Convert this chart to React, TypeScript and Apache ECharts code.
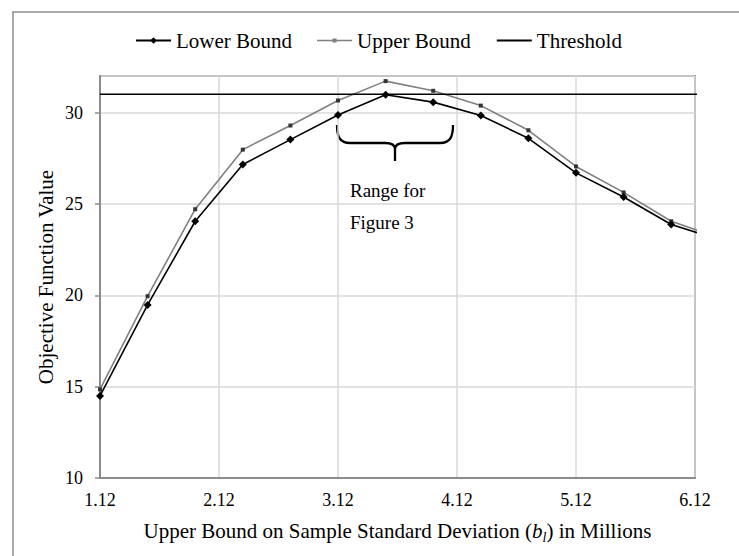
import React, { useEffect, useRef } from "react";
import * as echarts from "echarts";

// ---- data ----
const xValues = [1.12, 1.52, 1.92, 2.32, 2.72, 3.12, 3.52, 3.92, 4.32, 4.72, 5.12, 5.52, 5.92, 6.32];
const lowerBound = [14.49, 19.47, 24.05, 27.16, 28.52, 29.87, 30.97, 30.57, 29.84, 28.59, 26.7, 25.38, 23.87, 23.05];
const upperBound = [14.85, 19.95, 24.71, 27.97, 29.29, 30.66, 31.72, 31.19, 30.38, 29.03, 27.05, 25.63, 24.05, 23.15];
const thresholdX = [1.12, 6.15];
const thresholdValue = 31;
const xTickValues = [1.12, 2.12, 3.12, 4.12, 5.12, 6.12];
const seriesNames = ["Lower Bound", "Upper Bound", "Threshold"];
const annotationLines = ["Range for", "Figure 3"];

const FONT = "Liberation Serif";
const AXIS_GRAY = "#8c8c8c";

const braceD =
  "M0 0 C0 12 3 18 13 18 L48 18 C54 18 58 20 58 24 L58 36 M58 24 C58 20 62 18 68 18 L103 18 C113 18 116 12 116 0";
let registered = false;
function ensureShape() {
  if (registered) return;
  echarts.graphic.registerShape("brace", echarts.graphic.extendPath(braceD, {}));
  registered = true;
}

export default function App() {
  const ref = useRef<HTMLDivElement>(null);
  useEffect(() => {
    ensureShape();
    const chart = echarts.init(ref.current!, null, { renderer: "svg" });
    const option: any = {
      animation: false,
      backgroundColor: "#fff",
      textStyle: { fontFamily: FONT },
      legend: {
        data: [
          { name: seriesNames[0] },
          {
            name: seriesNames[1],
            icon: "path://M0 3.25 H35 V4.75 H0 Z M15.5 2 H19.5 V6 H15.5 Z",
            itemStyle: { color: "#808080" },
          },
          { name: seriesNames[2], itemStyle: { opacity: 0 } },
        ],
        left: 135,
        top: 30,
        padding: 0,
        itemGap: 25,
        itemWidth: 35,
        itemHeight: 8,
        textStyle: { fontSize: 21, fontFamily: FONT, color: "#000" },
      },
      grid: {
        left: 100,
        top: 76,
        right: 44,
        bottom: 78,
        show: true,
        borderColor: AXIS_GRAY,
        borderWidth: 2,
        containLabel: false,
        outerBoundsMode: "none",
      },
      xAxis: {
        type: "value",
        min: 1.12,
        max: 6.12,
        name: "{n|Upper Bound on Sample Standard Deviation (}{i|b}{s|l}{n|) in Millions}",
        nameLocation: "middle",
        nameGap: 40,
        nameMoveOverlap: false,
        nameTextStyle: {
          fontSize: 21,
          fontFamily: FONT,
          color: "#000",
          rich: {
            n: { fontSize: 21, fontFamily: FONT, color: "#000", lineHeight: 26 },
            i: { fontSize: 21, fontFamily: FONT, color: "#000", fontStyle: "italic", lineHeight: 26 },
            s: { fontSize: 14, fontFamily: FONT, color: "#000", fontStyle: "italic", lineHeight: 14, verticalAlign: "bottom" },
          },
        },
        axisLine: { show: true, lineStyle: { color: AXIS_GRAY, width: 2 } },
        axisTick: { show: false, customValues: xTickValues },
        axisLabel: {
          customValues: xTickValues,
          formatter: (v: number) => v.toFixed(2),
          fontSize: 18,
          fontFamily: FONT,
          color: "#000",
          margin: 13,
        },
        splitLine: { show: true, lineStyle: { color: "#d9d9d9", width: 1.5 } },
      },
      yAxis: {
        type: "value",
        min: 10,
        max: 32,
        interval: 5,
        name: "Objective Function Value",
        nameLocation: "middle",
        nameRotate: 90,
        nameGap: 44,
        nameMoveOverlap: false,
        nameTextStyle: { fontSize: 21, fontFamily: FONT, color: "#000" },
        axisLine: { show: true, lineStyle: { color: AXIS_GRAY, width: 2 } },
        axisTick: { show: true, inside: false, length: 5, lineStyle: { color: AXIS_GRAY, width: 1.5 } },
        axisLabel: { fontSize: 18, fontFamily: FONT, color: "#000", margin: 17, showMaxLabel: false },
        splitLine: { show: true, lineStyle: { color: "#d9d9d9", width: 1.5 } },
      },
      series: [
        {
          name: seriesNames[0],
          type: "line",
          data: xValues.map((x, i) => [x, lowerBound[i]]),
          symbol: "diamond",
          symbolSize: 8,
          showAllSymbol: true,
          clip: true,
          z: 4,
          lineStyle: { color: "#000", width: 1.6 },
          itemStyle: { color: "#000" },
        },
        {
          name: seriesNames[1],
          type: "line",
          data: xValues.map((x, i) => [x, upperBound[i]]),
          symbol: "rect",
          symbolSize: 4,
          showAllSymbol: true,
          clip: true,
          z: 3,
          lineStyle: { color: "#808080", width: 1.6 },
          itemStyle: { color: "#333" },
        },
        {
          name: seriesNames[2],
          type: "line",
          data: thresholdX.map((x) => [x, thresholdValue]),
          symbol: "none",
          clip: false,
          z: 5,
          lineStyle: { color: "#000", width: 1.5 },
          itemStyle: { color: "#000" },
        },
      ],
      graphic: [
        {
          type: "rect",
          silent: true,
          shape: { x: 13, y: 12, width: 900, height: 700 },
          style: { fill: "none", stroke: AXIS_GRAY, lineWidth: 1.5 },
        },
        {
          type: "brace",
          silent: true,
          x: 337,
          y: 125,
          style: { fill: "none", stroke: "#000", lineWidth: 2.3 },
        },
        {
          type: "text",
          silent: true,
          x: 350,
          y: 190,
          style: { text: annotationLines[0], fontSize: 19, fontFamily: FONT, fill: "#000", verticalAlign: "middle", align: "left" },
        },
        {
          type: "text",
          silent: true,
          x: 350,
          y: 222,
          style: { text: annotationLines[1], fontSize: 19, fontFamily: FONT, fill: "#000", verticalAlign: "middle", align: "left" },
        },
      ],
    };
    chart.setOption(option);
    return () => chart.dispose();
  }, []);
  return (
    <div
      ref={ref}
      style={{ position: "absolute", left: 0, top: 0, width: 739, height: 556, background: "#fff" }}
    />
  );
}
